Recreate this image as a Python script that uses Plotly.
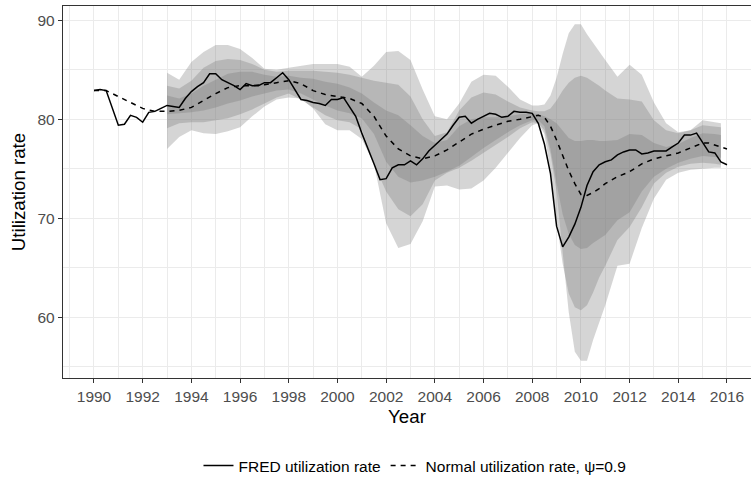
import plotly.graph_objects as go
import numpy as np

# FRED capacity utilization, quarterly 1990Q1 - 2016Q1
fred_years = np.arange(1990, 2016.01, 0.25)
fred_rate = [82.9, 83.0, 82.9, 81.2,  79.4, 79.5, 80.4, 80.2,  79.7, 80.7, 80.8, 81.1,
             81.4, 81.3, 81.2, 82.1,  82.8, 83.3, 83.7, 84.6,  84.6, 84.0, 83.7, 83.4,
             83.0, 83.6, 83.4, 83.4,  83.7, 83.7, 84.2, 84.7,  84.0, 83.0, 82.0, 81.9,
             81.7, 81.6, 81.4, 82.0,  82.0, 82.2, 81.3, 80.3,  78.6, 77.1, 75.5, 73.9,
             74.0, 75.1, 75.4, 75.4,  75.8, 75.4, 76.0, 76.8,  77.4, 77.9, 78.5, 79.4,
             80.2, 80.3, 79.6, 80.0,  80.3, 80.6, 80.5, 80.2,  80.3, 80.8, 80.7, 80.7,
             80.6, 79.6, 77.5, 74.5,  69.2, 67.1, 68.1, 69.4,  71.1, 73.3, 74.7, 75.4,
             75.7, 75.9, 76.4, 76.7,  76.9, 76.9, 76.5, 76.6,  76.8, 76.8, 76.8, 77.2,
             77.6, 78.4, 78.4, 78.6,  77.6, 76.7, 76.6, 75.7,  75.4]

# normal utilization rate, psi = 0.9
normal_years = [1990.0, 1990.5, 1991.0, 1991.5, 1992.0, 1992.5, 1993.0, 1993.5, 1994.0, 1994.5,
                1995.0, 1995.5, 1996.0, 1996.5, 1997.0, 1997.5, 1998.0, 1998.5, 1999.0, 1999.5,
                2000.0, 2000.5, 2001.0, 2001.5, 2002.0, 2002.5, 2003.0, 2003.5, 2004.0, 2004.5,
                2005.0, 2005.5, 2006.0, 2006.5, 2007.0, 2007.5, 2008.0, 2008.25, 2008.5, 2008.75,
                2009.0, 2009.25, 2009.5, 2009.75, 2010.0, 2010.25, 2010.5, 2010.75, 2011.0, 2011.5,
                2012.0, 2012.5, 2013.0, 2013.5, 2014.0, 2014.5, 2015.0, 2015.25, 2015.5, 2016.0]
normal_rate = [82.9, 82.9, 82.3, 81.7, 81.1, 80.8, 80.8, 80.9, 81.2, 81.9,
               82.6, 83.2, 83.4, 83.4, 83.5, 83.7, 83.9, 83.6, 82.9, 82.5,
               82.3, 82.1, 81.6, 80.3, 78.3, 77.0, 76.3, 76.0, 76.3, 76.9,
               77.7, 78.5, 79.0, 79.4, 79.8, 80.0, 80.3, 80.4, 80.2, 79.3,
               77.9, 76.3, 74.8, 73.5, 72.4, 72.3, 72.6, 73.0, 73.5, 74.2,
               74.7, 75.5, 76.0, 76.3, 76.6, 77.1, 77.6, 77.6, 77.4, 77.0]

# fan chart bands (outer / middle / inner)
band_years = [1993.0, 1993.5, 1994.0, 1994.5, 1995.0, 1995.5, 1996.0, 1996.5, 1997.0, 1997.5,
              1998.0, 1998.5, 1999.0, 1999.5, 2000.0, 2000.5, 2001.0, 2001.5, 2002.0, 2002.5,
              2003.0, 2003.5, 2004.0, 2004.5, 2005.0, 2005.5, 2006.0, 2006.5, 2007.0, 2007.5,
              2008.0, 2008.25, 2008.5, 2008.75, 2009.0, 2009.25, 2009.5, 2009.75, 2010.0, 2010.25,
              2010.5, 2010.75, 2011.0, 2011.5, 2012.0, 2012.5, 2013.0, 2013.5, 2014.0, 2014.5,
              2015.0, 2015.5, 2015.75]
outer_upper = [84.7, 84.0, 85.8, 86.8, 87.5, 87.5, 87.1, 86.2, 85.1, 85.0,
               85.2, 85.4, 85.6, 85.6, 85.6, 85.3, 84.3, 85.4, 86.8, 86.9,
               86.0, 83.0, 80.3, 80.0, 81.6, 83.8, 84.5, 84.4, 83.3, 82.0,
               81.4, 81.4, 81.5, 82.4, 84.2, 86.6, 88.7, 89.6, 89.6, 88.6,
               87.7, 86.9, 86.0, 84.3, 85.5, 84.5, 81.7, 79.6, 78.7, 78.9,
               79.9, 79.7, 79.6]
outer_lower = [77.0, 78.2, 78.9, 78.6, 78.5, 78.8, 79.2, 80.3, 81.3, 82.0,
               82.2, 82.1, 81.1, 79.5, 78.9, 78.9, 78.0, 75.5, 69.5, 67.0,
               67.4, 69.7, 73.2, 73.3, 72.9, 73.0, 73.8, 75.1, 76.6, 78.1,
               79.4, 79.6, 78.9, 76.5, 72.7, 66.5, 60.5, 56.5, 55.6, 55.6,
               57.7, 59.4, 61.2, 65.2, 65.4, 69.0, 72.0, 73.9, 74.6, 74.9,
               75.0, 75.1, 75.1]
middle_upper = [83.4, 83.1, 83.9, 85.2, 85.9, 86.1, 86.0, 85.6, 85.0, 84.8,
                84.9, 84.9, 84.9, 84.8, 84.7, 84.5, 84.2, 83.9, 83.7, 83.5,
                82.3, 80.0, 78.3, 78.7, 80.9, 82.2, 82.7, 82.5, 81.8, 81.2,
                80.9, 80.8, 80.8, 81.1, 81.9, 82.9, 83.7, 84.2, 84.4, 84.2,
                83.8, 83.4, 82.9, 82.1, 82.0, 81.8, 79.9, 78.9, 78.6, 78.9,
                79.4, 79.3, 79.2]
middle_lower = [79.1, 79.6, 79.7, 79.7, 79.9, 80.1, 80.5, 81.0, 81.6, 82.2,
                82.6, 82.0, 81.2, 80.4, 79.9, 79.7, 79.0, 75.5, 72.7, 70.9,
                70.2, 71.4, 73.8, 74.6, 75.1, 75.8, 76.6, 77.4, 78.2, 79.1,
                79.7, 79.6, 78.5, 74.8, 69.7, 65.4, 62.4, 61.0, 60.7, 61.2,
                62.5, 64.0, 65.2, 67.8, 69.1, 71.1, 73.5, 74.6, 75.2, 75.5,
                75.6, 75.5, 75.4]
inner_upper = [82.4, 82.1, 82.6, 83.4, 84.0, 84.6, 84.8, 84.8, 84.5, 84.3,
               84.4, 84.2, 84.1, 83.8, 83.6, 83.2, 82.6, 81.7, 80.9, 80.4,
               79.4, 78.3, 77.6, 77.9, 79.3, 80.0, 80.2, 80.2, 80.3, 80.5,
               80.6, 80.5, 80.3, 80.0, 79.6, 78.8, 78.1, 77.8, 77.8, 77.9,
               77.9, 77.8, 77.8, 77.9, 78.5, 78.4, 77.6, 77.2, 77.5, 78.1,
               78.6, 78.5, 78.4]
inner_lower = [80.5, 80.6, 80.7, 80.9, 81.2, 81.6, 81.9, 82.3, 82.6, 82.9,
               83.0, 82.6, 82.0, 81.4, 80.9, 80.6, 80.1, 78.5, 75.7, 74.2,
               73.6, 73.8, 74.2, 74.7, 75.3, 76.2, 77.1, 77.9, 78.7, 79.4,
               79.9, 79.9, 79.3, 77.0, 73.5, 70.4, 68.4, 67.3, 66.9, 67.0,
               67.5, 67.9, 68.3, 69.8, 70.6, 72.7, 74.2, 75.0, 75.6, 76.0,
               76.3, 76.2, 76.1]

FONT = "Liberation Sans, Arial, sans-serif"
band_fill = "rgba(115,115,115,0.3)"

fig = go.Figure()

# bands drawn as closed polygons, stacked so the overlap darkens
for upper, lower in [(outer_upper, outer_lower), (middle_upper, middle_lower), (inner_upper, inner_lower)]:
    fig.add_trace(go.Scatter(x=band_years + band_years[::-1], y=upper + lower[::-1],
                             fill='toself', fillcolor=band_fill, mode='lines',
                             line=dict(width=0), hoverinfo='skip', showlegend=False))

fig.add_trace(go.Scatter(x=fred_years, y=fred_rate, mode='lines', name='FRED utilization rate',
                         line=dict(color='black', width=1.5)))
fig.add_trace(go.Scatter(x=normal_years, y=normal_rate, mode='lines', name='Normal utilization rate, ψ=0.9',
                         line=dict(color='black', width=1.5, dash='5px,5px')))

grid = '#ebebeb'
fig.update_layout(
    width=751, height=483,
    margin=dict(l=63, r=0, t=6, b=101),
    plot_bgcolor='white', paper_bgcolor='white',
    font=dict(family=FONT, color='black'),
    legend=dict(orientation='h', x=0.5116, xanchor='center', y=-0.237, yanchor='middle',
                font=dict(size=15.5, family=FONT, color='black'), bgcolor='rgba(0,0,0,0)'),
    xaxis=dict(range=[1988.727, 2016.986], tickmode='array', tickvals=list(range(1990, 2017, 2)),
               showgrid=True, gridcolor=grid, gridwidth=1.4, zeroline=False,
               minor=dict(dtick=1, tick0=1989, showgrid=True, gridcolor=grid, gridwidth=0.7),
               showline=True, mirror=True, linecolor='#333333', linewidth=1.4,
               ticks='outside', ticklen=4, tickwidth=1.4, tickcolor='#333333',
               tickfont=dict(size=15.5, color='#4d4d4d', family=FONT),
               title=dict(text='Year', font=dict(size=18.7, color='black', family=FONT), standoff=6),
               automargin=False),
    yaxis=dict(range=[53.85, 91.45], tickvals=[60, 70, 80, 90],
               showgrid=True, gridcolor=grid, gridwidth=1.4, zeroline=False,
               minor=dict(tickvals=[55, 65, 75, 85], showgrid=True, gridcolor=grid, gridwidth=0.7),
               showline=True, mirror=False, linecolor='#333333', linewidth=1.4,
               ticks='outside', ticklen=4, tickwidth=1.4, tickcolor='#333333',
               tickfont=dict(size=15.5, color='#4d4d4d', family=FONT),
               title=dict(text='Utilization rate', font=dict(size=18.7, color='black', family=FONT), standoff=6),
               automargin=False),
)

# page has a default 8px body margin; drop it so the figure sits at the window corner
fig.write_html("out.html", config={'displayModeBar': False},
               post_script="document.body.style.margin='0';")
